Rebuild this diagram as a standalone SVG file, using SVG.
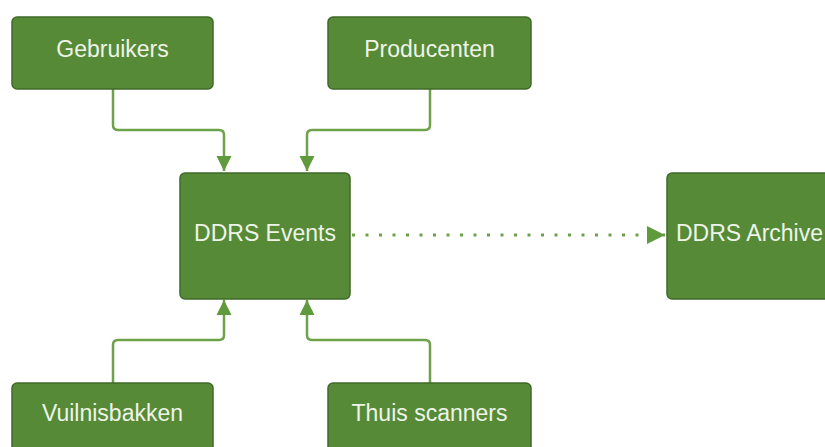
<svg xmlns="http://www.w3.org/2000/svg" width="825" height="447" viewBox="0 0 825 447">
  <defs>
    <style>
      .node rect { fill: #568a37; stroke: #3f6a29; stroke-width: 1.5; }
      .node text { fill: #eef4e8; font-family: "Liberation Sans", Arial, sans-serif; font-size: 23px; text-anchor: middle; dominant-baseline: central; }
      .node text.start { text-anchor: start; }
      .edge { fill: none; stroke: #6da24b; stroke-width: 2.5; stroke-linejoin: round; }
      .dotted { stroke-width: 3; stroke-dasharray: 3 10.5; stroke-linecap: butt; }
    </style>
    <marker id="arrow" viewBox="0 0 10 10" refX="10" refY="5" markerWidth="6" markerHeight="6.5" markerUnits="strokeWidth" orient="auto">
      <path d="M0,0 L10,5 L0,10 Z" fill="#5f9a3c"/>
    </marker>
  </defs>

  <rect width="825" height="447" fill="#ffffff"/>

  <g id="connectors">
    <path class="edge" d="M113,89 V125 Q113,130 118,130 H219 Q224,130 224,135 V171" marker-end="url(#arrow)"/>
    <path class="edge" d="M430,89 V125 Q430,130 425,130 H312 Q307,130 307,135 V171" marker-end="url(#arrow)"/>
    <path class="edge" d="M113,383 V345 Q113,340 118,340 H219 Q224,340 224,335 V300" marker-end="url(#arrow)"/>
    <path class="edge" d="M430,383 V345 Q430,340 425,340 H312 Q307,340 307,335 V300" marker-end="url(#arrow)"/>
    <path class="edge dotted" d="M352,235 H665" marker-end="url(#arrow)"/>
  </g>

  <g id="gebruikers" class="node">
    <rect x="12" y="17" width="201" height="72" rx="5"/>
    <text x="112.5" y="49">Gebruikers</text>
  </g>

  <g id="producenten" class="node">
    <rect x="328" y="17" width="203" height="72" rx="5"/>
    <text x="429.5" y="49">Producenten</text>
  </g>

  <g id="ddrs-events" class="node">
    <rect x="180" y="173" width="170" height="126" rx="5"/>
    <text x="265" y="233">DDRS Events</text>
  </g>

  <g id="ddrs-archive" class="node">
    <rect x="667" y="173" width="180" height="126" rx="5"/>
    <text class="start" x="676" y="233">DDRS Archive</text>
  </g>

  <g id="vuilnisbakken" class="node">
    <rect x="12" y="383" width="201" height="80" rx="5"/>
    <text x="112.5" y="413">Vuilnisbakken</text>
  </g>

  <g id="thuis-scanners" class="node">
    <rect x="328" y="383" width="203" height="80" rx="5"/>
    <text x="429.5" y="413">Thuis scanners</text>
  </g>
</svg>
